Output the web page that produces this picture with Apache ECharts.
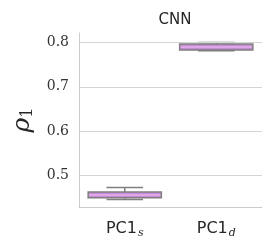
<!DOCTYPE html>
<html><head><meta charset="utf-8">
<script src="https://cdn.jsdelivr.net/npm/echarts@6/dist/echarts.min.js"></script>
<style>html,body{margin:0;padding:0;background:#fff}#c{width:277px;height:252px}</style>
</head><body><div id="c"></div>
<script>
const categories = ['PC1s', 'PC1d'];
const subscripts = ['s', 'd'];
// [min, Q1, median, Q3, max]
const boxValues = [
  [0.446, 0.450, 0.456, 0.463, 0.473],
  [0.7815, 0.783, 0.790, 0.7965, 0.800]
];
const yTicks = [0.5, 0.6, 0.7, 0.8];

const chart = echarts.init(document.getElementById('c'));
chart.setOption({
  animation: false,
  title: {text: 'CNN', left: 170, top: 8, textAlign: 'center',
    textStyle: {fontFamily: 'DejaVu Sans', fontSize: 15, fontWeight: 'normal', color: '#262626'}},
  grid: {left: 79, right: 15, top: 33, bottom: 45},
  xAxis: {
    type: 'category', data: categories,
    axisLine: {lineStyle: {color: '#cccccc', width: 1}},
    axisTick: {show: false}, splitLine: {show: false},
    axisLabel: {
      interval: 0, hideOverlap: false,
      margin: 12,
      formatter: (v, i) => '{a|PC1}{b|' + subscripts[i] + '}',
      rich: {
        a: {fontFamily: 'DejaVu Sans', fontSize: 16, color: '#262626'},
        b: {fontFamily: 'DejaVu Serif', fontStyle: 'italic', fontSize: 11, color: '#262626', padding: [9, 0, 0, 1]}
      }
    }
  },
  yAxis: {
    type: 'value', min: 0.429, max: 0.8214,
    axisLine: {show: true, lineStyle: {color: '#cccccc', width: 1}},
    axisTick: {show: false},
    splitLine: {show: false},
    axisLabel: {customValues: yTicks, formatter: v => v.toFixed(1), margin: 10,
      fontFamily: 'DejaVu Serif', fontSize: 14, color: '#333333'},
    name: '{r|ρ}{s|1}', nameLocation: 'middle', nameRotate: 90, nameGap: 40,
    nameTextStyle: {rich: {
      r: {fontFamily: 'DejaVu Serif', fontStyle: 'italic', fontSize: 25, color: '#262626'},
      s: {fontFamily: 'DejaVu Serif', fontSize: 16, color: '#262626', padding: [10, 0, 0, 0]}
    }}
  },
  series: [{
    type: 'line', data: [], silent: true,
    markLine: {silent: true, symbol: 'none', label: {show: false},
      lineStyle: {color: '#d4d4d4', width: 1, type: 'solid'},
      data: yTicks.map(v => ({yAxis: v}))}
  }, {
    type: 'custom',
    data: boxValues.map((b, i) => [i, ...b]),
    renderItem: (params, api) => {
      const i = api.value(0);
      const band = api.size([1, 0])[0];
      const w = band * 0.8;
      const c = api.coord([i, api.value(3)]);
      const x = c[0];
      const yMin = api.coord([i, api.value(1)])[1];
      const yQ1 = api.coord([i, api.value(2)])[1];
      const yMed = c[1];
      const yQ3 = api.coord([i, api.value(4)])[1];
      const yMax = api.coord([i, api.value(5)])[1];
      const edge = '#7f7f7f';
      const ls = {stroke: edge, lineWidth: 1.5};
      return {type: 'group', children: [
        {type: 'line', shape: {x1: x, y1: yQ3, x2: x, y2: yMax}, style: ls},
        {type: 'line', shape: {x1: x, y1: yQ1, x2: x, y2: yMin}, style: ls},
        {type: 'line', shape: {x1: x - w / 4, y1: yMax, x2: x + w / 4, y2: yMax}, style: ls},
        {type: 'line', shape: {x1: x - w / 4, y1: yMin, x2: x + w / 4, y2: yMin}, style: ls},
        {type: 'rect', shape: {x: x - w / 2, y: yQ3, width: w, height: yQ1 - yQ3},
          style: {fill: '#c48cd2', stroke: edge, lineWidth: 1.5}},
        {type: 'line', shape: {x1: x - w / 2 + 1, y1: yMed, x2: x + w / 2 - 1, y2: yMed},
          style: {stroke: '#e8b0ee', lineWidth: 1.5}}
      ]};
    }
  }]
});
</script></body></html>
